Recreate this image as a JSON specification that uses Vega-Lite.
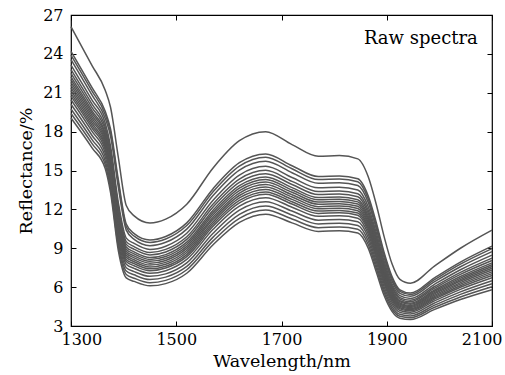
{
"$schema":"https://vega.github.io/schema/vega-lite/v6.json",
"width":421,"height":311,
"autosize":{"type":"none"},
"padding":{"left":71,"top":15,"right":13,"bottom":49},
"background":"white",
"config":{"view":{"stroke":"#000","strokeWidth":1.2},"font":"DejaVu Serif","axis":{"grid":false,"domain":false,"tickColor":"#000","labelColor":"#000","titleColor":"#000","labelFont":"DejaVu Serif","titleFont":"DejaVu Serif","labelFontSize":16,"titleFontSize":17.5,"titleFontWeight":"normal","tickSize":-5}},
"resolve":{"axis":{"x":"independent","y":"independent"}},
"layer":[
{"data":{"values":[
{"s":0,"w":1300,"r":26.1},{"s":1,"w":1300,"r":24.2},{"s":2,"w":1300,"r":23.91},{"s":3,"w":1300,"r":23.56},{"s":4,"w":1300,"r":23.14},{"s":5,"w":1300,"r":22.79},{"s":6,"w":1300,"r":22.5},{"s":7,"w":1300,"r":22.22},{"s":8,"w":1300,"r":22.01},{"s":9,"w":1300,"r":21.8},{"s":10,"w":1300,"r":21.59},{"s":11,"w":1300,"r":21.38},{"s":12,"w":1300,"r":21.16},{"s":13,"w":1300,"r":20.95},{"s":14,"w":1300,"r":20.74},{"s":15,"w":1300,"r":20.46},{"s":16,"w":1300,"r":20.11},{"s":17,"w":1300,"r":19.75},{"s":18,"w":1300,"r":19.4},{"s":19,"w":1300,"r":19.05},
{"s":0,"w":1340,"r":23.1},{"s":1,"w":1340,"r":21.39},{"s":2,"w":1340,"r":21.13},{"s":3,"w":1340,"r":20.81},{"s":4,"w":1340,"r":20.43},{"s":5,"w":1340,"r":20.12},{"s":6,"w":1340,"r":19.86},{"s":7,"w":1340,"r":19.61},{"s":8,"w":1340,"r":19.42},{"s":9,"w":1340,"r":19.23},{"s":10,"w":1340,"r":19.04},{"s":11,"w":1340,"r":18.85},{"s":12,"w":1340,"r":18.65},{"s":13,"w":1340,"r":18.46},{"s":14,"w":1340,"r":18.27},{"s":15,"w":1340,"r":18.02},{"s":16,"w":1340,"r":17.7},{"s":17,"w":1340,"r":17.38},{"s":18,"w":1340,"r":17.07},{"s":19,"w":1340,"r":16.75},
{"s":0,"w":1365,"r":21.2},{"s":1,"w":1365,"r":19.57},{"s":2,"w":1365,"r":19.33},{"s":3,"w":1365,"r":19.03},{"s":4,"w":1365,"r":18.66},{"s":5,"w":1365,"r":18.36},{"s":6,"w":1365,"r":18.12},{"s":7,"w":1365,"r":17.88},{"s":8,"w":1365,"r":17.7},{"s":9,"w":1365,"r":17.52},{"s":10,"w":1365,"r":17.33},{"s":11,"w":1365,"r":17.15},{"s":12,"w":1365,"r":16.97},{"s":13,"w":1365,"r":16.79},{"s":14,"w":1365,"r":16.61},{"s":15,"w":1365,"r":16.37},{"s":16,"w":1365,"r":16.07},{"s":17,"w":1365,"r":15.76},{"s":18,"w":1365,"r":15.46},{"s":19,"w":1365,"r":15.16},
{"s":0,"w":1375,"r":19.9},{"s":1,"w":1375,"r":18.23},{"s":2,"w":1375,"r":17.99},{"s":3,"w":1375,"r":17.68},{"s":4,"w":1375,"r":16.91},{"s":5,"w":1375,"r":16.6},{"s":6,"w":1375,"r":16.35},{"s":7,"w":1375,"r":16.11},{"s":8,"w":1375,"r":15.92},{"s":9,"w":1375,"r":15.74},{"s":10,"w":1375,"r":15.55},{"s":11,"w":1375,"r":15.37},{"s":12,"w":1375,"r":15.18},{"s":13,"w":1375,"r":15.0},{"s":14,"w":1375,"r":14.81},{"s":15,"w":1375,"r":14.56},{"s":16,"w":1375,"r":14.26},{"s":17,"w":1375,"r":13.95},{"s":18,"w":1375,"r":13.64},{"s":19,"w":1375,"r":13.33},
{"s":0,"w":1390,"r":16.0},{"s":1,"w":1390,"r":14.27},{"s":2,"w":1390,"r":14.02},{"s":3,"w":1390,"r":13.7},{"s":4,"w":1390,"r":12.51},{"s":5,"w":1390,"r":12.19},{"s":6,"w":1390,"r":11.94},{"s":7,"w":1390,"r":11.68},{"s":8,"w":1390,"r":11.49},{"s":9,"w":1390,"r":11.3},{"s":10,"w":1390,"r":11.1},{"s":11,"w":1390,"r":10.91},{"s":12,"w":1390,"r":10.72},{"s":13,"w":1390,"r":10.53},{"s":14,"w":1390,"r":10.34},{"s":15,"w":1390,"r":10.08},{"s":16,"w":1390,"r":9.76},{"s":17,"w":1390,"r":9.44},{"s":18,"w":1390,"r":9.12},{"s":19,"w":1390,"r":8.8},
{"s":0,"w":1405,"r":12.3},{"s":1,"w":1405,"r":10.87},{"s":2,"w":1405,"r":10.66},{"s":3,"w":1405,"r":10.4},{"s":4,"w":1405,"r":9.78},{"s":5,"w":1405,"r":9.51},{"s":6,"w":1405,"r":9.3},{"s":7,"w":1405,"r":9.09},{"s":8,"w":1405,"r":8.93},{"s":9,"w":1405,"r":8.77},{"s":10,"w":1405,"r":8.61},{"s":11,"w":1405,"r":8.46},{"s":12,"w":1405,"r":8.3},{"s":13,"w":1405,"r":8.14},{"s":14,"w":1405,"r":7.98},{"s":15,"w":1405,"r":7.77},{"s":16,"w":1405,"r":7.5},{"s":17,"w":1405,"r":7.24},{"s":18,"w":1405,"r":6.97},{"s":19,"w":1405,"r":6.71},
{"s":0,"w":1420,"r":11.5},{"s":1,"w":1420,"r":10.13},{"s":2,"w":1420,"r":9.93},{"s":3,"w":1420,"r":9.68},{"s":4,"w":1420,"r":9.37},{"s":5,"w":1420,"r":9.12},{"s":6,"w":1420,"r":8.92},{"s":7,"w":1420,"r":8.72},{"s":8,"w":1420,"r":8.57},{"s":9,"w":1420,"r":8.41},{"s":10,"w":1420,"r":8.26},{"s":11,"w":1420,"r":8.11},{"s":12,"w":1420,"r":7.96},{"s":13,"w":1420,"r":7.81},{"s":14,"w":1420,"r":7.65},{"s":15,"w":1420,"r":7.45},{"s":16,"w":1420,"r":7.2},{"s":17,"w":1420,"r":6.95},{"s":18,"w":1420,"r":6.69},{"s":19,"w":1420,"r":6.44},
{"s":0,"w":1450,"r":10.95},{"s":1,"w":1450,"r":9.64},{"s":2,"w":1450,"r":9.45},{"s":3,"w":1450,"r":9.2},{"s":4,"w":1450,"r":8.91},{"s":5,"w":1450,"r":8.67},{"s":6,"w":1450,"r":8.48},{"s":7,"w":1450,"r":8.28},{"s":8,"w":1450,"r":8.14},{"s":9,"w":1450,"r":7.99},{"s":10,"w":1450,"r":7.85},{"s":11,"w":1450,"r":7.7},{"s":12,"w":1450,"r":7.55},{"s":13,"w":1450,"r":7.41},{"s":14,"w":1450,"r":7.26},{"s":15,"w":1450,"r":7.07},{"s":16,"w":1450,"r":6.83},{"s":17,"w":1450,"r":6.58},{"s":18,"w":1450,"r":6.34},{"s":19,"w":1450,"r":6.1},
{"s":0,"w":1480,"r":11.25},{"s":1,"w":1480,"r":9.91},{"s":2,"w":1480,"r":9.71},{"s":3,"w":1480,"r":9.46},{"s":4,"w":1480,"r":9.16},{"s":5,"w":1480,"r":8.91},{"s":6,"w":1480,"r":8.71},{"s":7,"w":1480,"r":8.51},{"s":8,"w":1480,"r":8.36},{"s":9,"w":1480,"r":8.21},{"s":10,"w":1480,"r":8.06},{"s":11,"w":1480,"r":7.91},{"s":12,"w":1480,"r":7.76},{"s":13,"w":1480,"r":7.61},{"s":14,"w":1480,"r":7.47},{"s":15,"w":1480,"r":7.27},{"s":16,"w":1480,"r":7.02},{"s":17,"w":1480,"r":6.77},{"s":18,"w":1480,"r":6.52},{"s":19,"w":1480,"r":6.27},
{"s":0,"w":1520,"r":12.4},{"s":1,"w":1520,"r":10.96},{"s":2,"w":1520,"r":10.75},{"s":3,"w":1520,"r":10.48},{"s":4,"w":1520,"r":10.16},{"s":5,"w":1520,"r":9.89},{"s":6,"w":1520,"r":9.68},{"s":7,"w":1520,"r":9.47},{"s":8,"w":1520,"r":9.31},{"s":9,"w":1520,"r":9.15},{"s":10,"w":1520,"r":8.99},{"s":11,"w":1520,"r":8.83},{"s":12,"w":1520,"r":8.67},{"s":13,"w":1520,"r":8.51},{"s":14,"w":1520,"r":8.35},{"s":15,"w":1520,"r":8.14},{"s":16,"w":1520,"r":7.87},{"s":17,"w":1520,"r":7.6},{"s":18,"w":1520,"r":7.34},{"s":19,"w":1520,"r":7.07},
{"s":0,"w":1570,"r":15.2},{"s":1,"w":1570,"r":13.6},{"s":2,"w":1570,"r":13.36},{"s":3,"w":1570,"r":13.07},{"s":4,"w":1570,"r":12.71},{"s":5,"w":1570,"r":12.41},{"s":6,"w":1570,"r":12.18},{"s":7,"w":1570,"r":11.94},{"s":8,"w":1570,"r":11.76},{"s":9,"w":1570,"r":11.58},{"s":10,"w":1570,"r":11.4},{"s":11,"w":1570,"r":11.23},{"s":12,"w":1570,"r":11.05},{"s":13,"w":1570,"r":10.87},{"s":14,"w":1570,"r":10.69},{"s":15,"w":1570,"r":10.46},{"s":16,"w":1570,"r":10.16},{"s":17,"w":1570,"r":9.86},{"s":18,"w":1570,"r":9.57},{"s":19,"w":1570,"r":9.27},
{"s":0,"w":1620,"r":17.3},{"s":1,"w":1620,"r":15.6},{"s":2,"w":1620,"r":15.34},{"s":3,"w":1620,"r":15.03},{"s":4,"w":1620,"r":14.65},{"s":5,"w":1620,"r":14.33},{"s":6,"w":1620,"r":14.08},{"s":7,"w":1620,"r":13.83},{"s":8,"w":1620,"r":13.64},{"s":9,"w":1620,"r":13.45},{"s":10,"w":1620,"r":13.26},{"s":11,"w":1620,"r":13.07},{"s":12,"w":1620,"r":12.88},{"s":13,"w":1620,"r":12.69},{"s":14,"w":1620,"r":12.5},{"s":15,"w":1620,"r":12.25},{"s":16,"w":1620,"r":11.94},{"s":17,"w":1620,"r":11.62},{"s":18,"w":1620,"r":11.31},{"s":19,"w":1620,"r":10.99},
{"s":0,"w":1670,"r":18.0},{"s":1,"w":1670,"r":16.28},{"s":2,"w":1670,"r":16.03},{"s":3,"w":1670,"r":15.71},{"s":4,"w":1670,"r":15.32},{"s":5,"w":1670,"r":15.01},{"s":6,"w":1670,"r":14.75},{"s":7,"w":1670,"r":14.5},{"s":8,"w":1670,"r":14.31},{"s":9,"w":1670,"r":14.11},{"s":10,"w":1670,"r":13.92},{"s":11,"w":1670,"r":13.73},{"s":12,"w":1670,"r":13.54},{"s":13,"w":1670,"r":13.35},{"s":14,"w":1670,"r":13.16},{"s":15,"w":1670,"r":12.9},{"s":16,"w":1670,"r":12.59},{"s":17,"w":1670,"r":12.27},{"s":18,"w":1670,"r":11.95},{"s":19,"w":1670,"r":11.63},
{"s":0,"w":1720,"r":17.0},{"s":1,"w":1720,"r":15.37},{"s":2,"w":1720,"r":15.13},{"s":3,"w":1720,"r":14.83},{"s":4,"w":1720,"r":14.46},{"s":5,"w":1720,"r":14.16},{"s":6,"w":1720,"r":13.92},{"s":7,"w":1720,"r":13.68},{"s":8,"w":1720,"r":13.5},{"s":9,"w":1720,"r":13.32},{"s":10,"w":1720,"r":13.13},{"s":11,"w":1720,"r":12.95},{"s":12,"w":1720,"r":12.77},{"s":13,"w":1720,"r":12.59},{"s":14,"w":1720,"r":12.41},{"s":15,"w":1720,"r":12.17},{"s":16,"w":1720,"r":11.87},{"s":17,"w":1720,"r":11.56},{"s":18,"w":1720,"r":11.26},{"s":19,"w":1720,"r":10.96},
{"s":0,"w":1770,"r":16.1},{"s":1,"w":1770,"r":14.53},{"s":2,"w":1770,"r":14.3},{"s":3,"w":1770,"r":14.01},{"s":4,"w":1770,"r":13.66},{"s":5,"w":1770,"r":13.37},{"s":6,"w":1770,"r":13.14},{"s":7,"w":1770,"r":12.91},{"s":8,"w":1770,"r":12.74},{"s":9,"w":1770,"r":12.56},{"s":10,"w":1770,"r":12.39},{"s":11,"w":1770,"r":12.21},{"s":12,"w":1770,"r":12.04},{"s":13,"w":1770,"r":11.87},{"s":14,"w":1770,"r":11.69},{"s":15,"w":1770,"r":11.46},{"s":16,"w":1770,"r":11.17},{"s":17,"w":1770,"r":10.88},{"s":18,"w":1770,"r":10.59},{"s":19,"w":1770,"r":10.3},
{"s":0,"w":1810,"r":16.15},{"s":1,"w":1810,"r":14.58},{"s":2,"w":1810,"r":14.35},{"s":3,"w":1810,"r":14.06},{"s":4,"w":1810,"r":13.71},{"s":5,"w":1810,"r":13.42},{"s":6,"w":1810,"r":13.19},{"s":7,"w":1810,"r":12.96},{"s":8,"w":1810,"r":12.79},{"s":9,"w":1810,"r":12.61},{"s":10,"w":1810,"r":12.44},{"s":11,"w":1810,"r":12.26},{"s":12,"w":1810,"r":12.09},{"s":13,"w":1810,"r":11.92},{"s":14,"w":1810,"r":11.74},{"s":15,"w":1810,"r":11.51},{"s":16,"w":1810,"r":11.22},{"s":17,"w":1810,"r":10.93},{"s":18,"w":1810,"r":10.64},{"s":19,"w":1810,"r":10.35},
{"s":0,"w":1845,"r":15.9},{"s":1,"w":1845,"r":14.36},{"s":2,"w":1845,"r":14.13},{"s":3,"w":1845,"r":13.84},{"s":4,"w":1845,"r":13.5},{"s":5,"w":1845,"r":13.21},{"s":6,"w":1845,"r":12.98},{"s":7,"w":1845,"r":12.75},{"s":8,"w":1845,"r":12.58},{"s":9,"w":1845,"r":12.41},{"s":10,"w":1845,"r":12.24},{"s":11,"w":1845,"r":12.07},{"s":12,"w":1845,"r":11.9},{"s":13,"w":1845,"r":11.72},{"s":14,"w":1845,"r":11.55},{"s":15,"w":1845,"r":11.32},{"s":16,"w":1845,"r":11.04},{"s":17,"w":1845,"r":10.75},{"s":18,"w":1845,"r":10.47},{"s":19,"w":1845,"r":10.18},
{"s":0,"w":1865,"r":14.5},{"s":1,"w":1865,"r":13.01},{"s":2,"w":1865,"r":12.79},{"s":3,"w":1865,"r":12.52},{"s":4,"w":1865,"r":12.19},{"s":5,"w":1865,"r":11.91},{"s":6,"w":1865,"r":11.69},{"s":7,"w":1865,"r":11.47},{"s":8,"w":1865,"r":11.3},{"s":9,"w":1865,"r":11.14},{"s":10,"w":1865,"r":10.97},{"s":11,"w":1865,"r":10.81},{"s":12,"w":1865,"r":10.64},{"s":13,"w":1865,"r":10.48},{"s":14,"w":1865,"r":10.31},{"s":15,"w":1865,"r":10.09},{"s":16,"w":1865,"r":9.82},{"s":17,"w":1865,"r":9.54},{"s":18,"w":1865,"r":9.27},{"s":19,"w":1865,"r":8.99},
{"s":0,"w":1880,"r":12.4},{"s":1,"w":1880,"r":10.99},{"s":2,"w":1880,"r":10.78},{"s":3,"w":1880,"r":10.52},{"s":4,"w":1880,"r":10.21},{"s":5,"w":1880,"r":9.95},{"s":6,"w":1880,"r":9.74},{"s":7,"w":1880,"r":9.53},{"s":8,"w":1880,"r":9.38},{"s":9,"w":1880,"r":9.22},{"s":10,"w":1880,"r":9.07},{"s":11,"w":1880,"r":8.91},{"s":12,"w":1880,"r":8.75},{"s":13,"w":1880,"r":8.6},{"s":14,"w":1880,"r":8.44},{"s":15,"w":1880,"r":8.23},{"s":16,"w":1880,"r":7.97},{"s":17,"w":1880,"r":7.71},{"s":18,"w":1880,"r":7.45},{"s":19,"w":1880,"r":7.19},
{"s":0,"w":1895,"r":9.9},{"s":1,"w":1895,"r":8.67},{"s":2,"w":1895,"r":8.49},{"s":3,"w":1895,"r":8.26},{"s":4,"w":1895,"r":7.99},{"s":5,"w":1895,"r":7.76},{"s":6,"w":1895,"r":7.58},{"s":7,"w":1895,"r":7.4},{"s":8,"w":1895,"r":7.26},{"s":9,"w":1895,"r":7.12},{"s":10,"w":1895,"r":6.99},{"s":11,"w":1895,"r":6.85},{"s":12,"w":1895,"r":6.71},{"s":13,"w":1895,"r":6.58},{"s":14,"w":1895,"r":6.44},{"s":15,"w":1895,"r":6.26},{"s":16,"w":1895,"r":6.03},{"s":17,"w":1895,"r":5.8},{"s":18,"w":1895,"r":5.58},{"s":19,"w":1895,"r":5.35},
{"s":0,"w":1910,"r":7.8},{"s":1,"w":1910,"r":6.81},{"s":2,"w":1910,"r":6.66},{"s":3,"w":1910,"r":6.48},{"s":4,"w":1910,"r":6.26},{"s":5,"w":1910,"r":6.08},{"s":6,"w":1910,"r":5.93},{"s":7,"w":1910,"r":5.78},{"s":8,"w":1910,"r":5.67},{"s":9,"w":1910,"r":5.56},{"s":10,"w":1910,"r":5.45},{"s":11,"w":1910,"r":5.34},{"s":12,"w":1910,"r":5.23},{"s":13,"w":1910,"r":5.12},{"s":14,"w":1910,"r":5.01},{"s":15,"w":1910,"r":4.86},{"s":16,"w":1910,"r":4.68},{"s":17,"w":1910,"r":4.5},{"s":18,"w":1910,"r":4.31},{"s":19,"w":1910,"r":4.13},
{"s":0,"w":1925,"r":6.6},{"s":1,"w":1925,"r":5.79},{"s":2,"w":1925,"r":5.67},{"s":3,"w":1925,"r":5.52},{"s":4,"w":1925,"r":5.34},{"s":5,"w":1925,"r":5.19},{"s":6,"w":1925,"r":5.07},{"s":7,"w":1925,"r":4.95},{"s":8,"w":1925,"r":4.86},{"s":9,"w":1925,"r":4.77},{"s":10,"w":1925,"r":4.68},{"s":11,"w":1925,"r":4.59},{"s":12,"w":1925,"r":4.5},{"s":13,"w":1925,"r":4.41},{"s":14,"w":1925,"r":4.32},{"s":15,"w":1925,"r":4.2},{"s":16,"w":1925,"r":4.05},{"s":17,"w":1925,"r":3.9},{"s":18,"w":1925,"r":3.75},{"s":19,"w":1925,"r":3.6},
{"s":0,"w":1945,"r":6.3},{"s":1,"w":1945,"r":5.54},{"s":2,"w":1945,"r":5.43},{"s":3,"w":1945,"r":5.29},{"s":4,"w":1945,"r":5.12},{"s":5,"w":1945,"r":4.98},{"s":6,"w":1945,"r":4.87},{"s":7,"w":1945,"r":4.76},{"s":8,"w":1945,"r":4.68},{"s":9,"w":1945,"r":4.59},{"s":10,"w":1945,"r":4.51},{"s":11,"w":1945,"r":4.42},{"s":12,"w":1945,"r":4.34},{"s":13,"w":1945,"r":4.26},{"s":14,"w":1945,"r":4.17},{"s":15,"w":1945,"r":4.06},{"s":16,"w":1945,"r":3.92},{"s":17,"w":1945,"r":3.78},{"s":18,"w":1945,"r":3.64},{"s":19,"w":1945,"r":3.5},
{"s":0,"w":1990,"r":7.6},{"s":1,"w":1990,"r":6.7},{"s":2,"w":1990,"r":6.56},{"s":3,"w":1990,"r":6.4},{"s":4,"w":1990,"r":6.2},{"s":5,"w":1990,"r":6.03},{"s":6,"w":1990,"r":5.9},{"s":7,"w":1990,"r":5.76},{"s":8,"w":1990,"r":5.66},{"s":9,"w":1990,"r":5.56},{"s":10,"w":1990,"r":5.46},{"s":11,"w":1990,"r":5.36},{"s":12,"w":1990,"r":5.26},{"s":13,"w":1990,"r":5.16},{"s":14,"w":1990,"r":5.06},{"s":15,"w":1990,"r":4.93},{"s":16,"w":1990,"r":4.76},{"s":17,"w":1990,"r":4.59},{"s":18,"w":1990,"r":4.43},{"s":19,"w":1990,"r":4.26},
{"s":0,"w":2040,"r":9.0},{"s":1,"w":2040,"r":7.93},{"s":2,"w":2040,"r":7.77},{"s":3,"w":2040,"r":7.57},{"s":4,"w":2040,"r":7.34},{"s":5,"w":2040,"r":7.14},{"s":6,"w":2040,"r":6.98},{"s":7,"w":2040,"r":6.82},{"s":8,"w":2040,"r":6.7},{"s":9,"w":2040,"r":6.58},{"s":10,"w":2040,"r":6.47},{"s":11,"w":2040,"r":6.35},{"s":12,"w":2040,"r":6.23},{"s":13,"w":2040,"r":6.11},{"s":14,"w":2040,"r":5.99},{"s":15,"w":2040,"r":5.83},{"s":16,"w":2040,"r":5.63},{"s":17,"w":2040,"r":5.44},{"s":18,"w":2040,"r":5.24},{"s":19,"w":2040,"r":5.04},
{"s":0,"w":2100,"r":10.4},{"s":1,"w":2100,"r":9.16},{"s":2,"w":2100,"r":8.97},{"s":3,"w":2100,"r":8.74},{"s":4,"w":2100,"r":8.47},{"s":5,"w":2100,"r":8.24},{"s":6,"w":2100,"r":8.05},{"s":7,"w":2100,"r":7.87},{"s":8,"w":2100,"r":7.73},{"s":9,"w":2100,"r":7.59},{"s":10,"w":2100,"r":7.46},{"s":11,"w":2100,"r":7.32},{"s":12,"w":2100,"r":7.18},{"s":13,"w":2100,"r":7.04},{"s":14,"w":2100,"r":6.9},{"s":15,"w":2100,"r":6.72},{"s":16,"w":2100,"r":6.49},{"s":17,"w":2100,"r":6.26},{"s":18,"w":2100,"r":6.03},{"s":19,"w":2100,"r":5.8}
]},
"mark":{"type":"line","stroke":"#555","strokeWidth":1.5,"interpolate":"monotone"},
"encoding":{
"x":{"field":"w","type":"quantitative","scale":{"domain":[1300,2100],"nice":false,"zero":false},"axis":{"orient":"bottom","values":[1300,1500,1700,1900,2100],"format":"d","title":"Wavelength/nm","labelFlush":true,"labelFlushOffset":10,"labelPadding":10,"titleBaseline":"alphabetic","titleX":210.5,"titleY":40}},
"y":{"field":"r","type":"quantitative","scale":{"domain":[3,27],"nice":false,"zero":false},"axis":{"orient":"left","values":[3,6,9,12,15,18,21,24,27],"format":"d","title":"Reflectance/%","labelPadding":13,"titleAngle":270,"titleBaseline":"alphabetic","titleX":-40,"titleY":155.5}},
"detail":{"field":"s","type":"nominal"}}},
{"data":{"values":[{}]},
"mark":{"type":"text","text":"Raw spectra","align":"right","baseline":"alphabetic","font":"DejaVu Serif","fontSize":18,"color":"#000"},
"encoding":{
"x":{"datum":2073,"type":"quantitative","axis":{"orient":"top","labels":false,"title":null,"values":[1300,1500,1700,1900,2100]}},
"y":{"datum":24.75,"type":"quantitative","axis":{"orient":"right","labels":false,"title":null,"values":[3,6,9,12,15,18,21,24,27]}}}}
]
}
